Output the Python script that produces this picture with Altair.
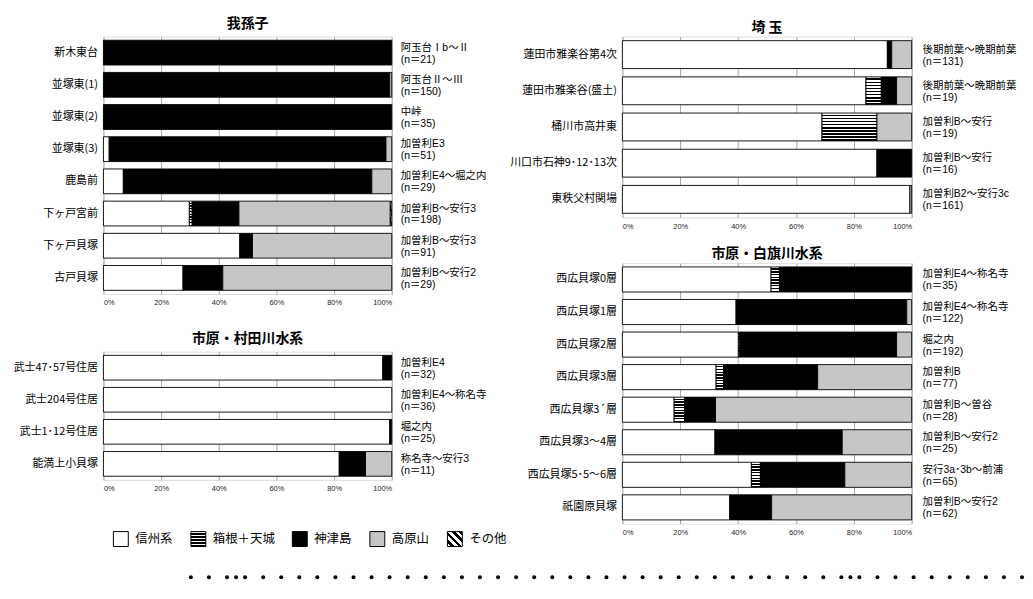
import altair as alt
import pandas as pd

FONT = "Noto Sans CJK JP"
ANN_FONT = "Liberation Sans, Noto Sans CJK JP"
CATS = ["信州系", "箱根＋天城", "神津島", "高原山", "その他"]

# ---------------- data ----------------
abiko_sites = ["新木東台", "並塚東(1)", "並塚東(2)", "並塚東(3)", "鹿島前", "下ヶ戸宮前", "下ヶ戸貝塚", "古戸貝塚"]
abiko_period = ["阿玉台Ⅰb～Ⅱ", "阿玉台Ⅱ～Ⅲ", "中峠", "加曽利E3", "加曽利E4～堀之内", "加曽利B～安行3", "加曽利B～安行3", "加曽利B～安行2"]
abiko_n = [21, 150, 35, 51, 29, 198, 91, 29]
abiko_shinshu = [0, 0, 0, 2.0, 6.9, 29.8, 47.3, 27.6]
abiko_hakone = [0, 0, 0, 0, 0, 1.0, 0, 0]
abiko_kozu = [100, 99.3, 100, 96.0, 86.2, 16.2, 4.4, 13.8]
abiko_takahara = [0, 0.7, 0, 2.0, 6.9, 52.5, 48.3, 58.6]
abiko_other = [0, 0, 0, 0, 0, 0.5, 0, 0]

murata_sites = ["武士47･57号住居", "武士204号住居", "武士1･12号住居", "能満上小貝塚"]
murata_period = ["加曽利E4", "加曽利E4～称名寺", "堀之内", "称名寺～安行3"]
murata_n = [32, 36, 25, 11]
murata_shinshu = [96.9, 100, 99.3, 81.8]
murata_hakone = [0, 0, 0, 0]
murata_kozu = [3.1, 0, 0.7, 9.1]
murata_takahara = [0, 0, 0, 9.1]
murata_other = [0, 0, 0, 0]

saitama_sites = ["蓮田市雅楽谷第4次", "蓮田市雅楽谷(盛土)", "桶川市高井東", "川口市石神9･12･13次", "東秩父村関場"]
saitama_period = ["後期前葉～晩期前葉", "後期前葉～晩期前葉", "加曽利B～安行", "加曽利B～安行", "加曽利B2～安行3c"]
saitama_n = [131, 19, 19, 16, 161]
saitama_shinshu = [91.6, 84.2, 69.0, 88.0, 99.4]
saitama_hakone = [0, 5.3, 19.0, 0, 0]
saitama_kozu = [1.5, 5.3, 0, 12.0, 0]
saitama_takahara = [6.9, 5.2, 12.0, 0, 0.6]
saitama_other = [0, 0, 0, 0, 0]

shirahata_sites = ["西広貝塚0層", "西広貝塚1層", "西広貝塚2層", "西広貝塚3層", "西広貝塚3´層", "西広貝塚3～4層", "西広貝塚5･5～6層", "祇園原貝塚"]
shirahata_period = ["加曽利E4～称名寺", "加曽利E4～称名寺", "堀之内", "加曽利B", "加曽利B～曽谷", "加曽利B～安行2", "安行3a･3b～前浦", "加曽利B～安行2"]
shirahata_n = [35, 122, 192, 77, 28, 25, 65, 62]
shirahata_shinshu = [51.4, 39.3, 40.1, 32.4, 17.9, 32.0, 44.6, 37.1]
shirahata_hakone = [2.9, 0, 0.5, 2.6, 3.6, 0, 3.1, 0]
shirahata_kozu = [45.7, 59.0, 54.2, 32.5, 10.7, 44.0, 29.2, 14.5]
shirahata_takahara = [0, 1.7, 5.2, 32.5, 67.8, 24.0, 23.1, 48.4]
shirahata_other = [0, 0, 0, 0, 0, 0, 0, 0]

dot_steps = [0, 1, 2, 2.5] + list(range(3, 37)) + [36.5] + list(range(37, 47))

# ---------------- fills ----------------
def stripes(n, frac, x2, y2, x1=0, y1=0):
    stops = []
    for i in range(n):
        a = i / n
        b = (i + frac) / n
        c = (i + 1) / n
        stops += [
            {"offset": a, "color": "white"},
            {"offset": b, "color": "white"},
            {"offset": b, "color": "black"},
            {"offset": c, "color": "black"},
        ]
    return {"gradient": "linear", "x1": x1, "y1": y1, "x2": x2, "y2": y2, "stops": stops}

DOT_GRAY = "#c6c6c6"
BAR_FILLS = {
    "信州系": "white",
    "箱根＋天城": stripes(9, 0.5, 0, 1),
    "神津島": "black",
    "高原山": DOT_GRAY,
    "その他": stripes(4, 0.5, 1, 0, 0, 1),
}
LEG_FILLS = {
    "信州系": "white",
    "箱根＋天城": stripes(5, 0.45, 0, 1),
    "神津島": "black",
    "高原山": DOT_GRAY,
    "その他": stripes(4, 0.5, 1, 0, 0, 1),
}


def segments(sites, series):
    rows = []
    for i, s in enumerate(sites):
        start = 0.0
        for c, vals in zip(CATS, series):
            v = vals[i]
            if v > 0:
                rows.append({"site": s, "cat": c, "x0": start, "x1": min(100.0, start + v)})
            start += v
    return pd.DataFrame(rows)


def panel(title, sites, periods, ns, series, width, height, dx, title_offset):
    seg = segments(sites, series)
    ann = pd.DataFrame({
        "site": sites,
        "label": ["%s\n(n＝%d)" % (p, n) for p, n in zip(periods, ns)],
    })
    X = alt.X(
        "x0:Q",
        scale=alt.Scale(domain=[0, 100], nice=False, zero=False),
        axis=alt.Axis(
            values=[0, 20, 40, 60, 80, 100],
            labelExpr="datum.value + '%'",
            grid=True, gridColor="#a8a8a8", gridWidth=1,
            ticks=False, domain=False, title=None,
            labelFontSize=7.5, labelFont="Liberation Sans", labelColor="#222",
            labelPadding=5,
        ),
    )
    Y = alt.Y(
        "site:N", sort=sites,
        scale=alt.Scale(paddingInner=0.23, paddingOuter=0.115),
        axis=alt.Axis(
            title=None, ticks=False, domain=False, grid=False,
            labelFontSize=11, labelFont=FONT, labelColor="black",
            labelPadding=6, labelLimit=300,
        ),
    )
    layers = []
    for c in CATS:
        layers.append(
            alt.Chart(seg)
            .transform_filter(alt.datum.cat == c)
            .mark_bar(fill=BAR_FILLS[c], stroke="black", strokeWidth=0.9)
            .encode(x=X, x2="x1:Q", y=Y)
        )
    layers.append(
        alt.Chart(ann).mark_text(align="left", baseline="middle", dx=dx, dy=-5,
                                 lineBreak="\n", lineHeight=12,
                                 fontSize=10.5, font=ANN_FONT, color="black")
        .encode(x=alt.datum(100), y=Y, text="label:N")
    )
    return alt.layer(*layers).properties(
        width=width, height=height,
        title=alt.Title(title, fontSize=14, font=FONT, fontWeight="bold",
                        anchor="middle", offset=title_offset, color="black"),
    )


abiko = panel("我孫子", abiko_sites, abiko_period, abiko_n,
              [abiko_shinshu, abiko_hakone, abiko_kozu, abiko_takahara, abiko_other],
              290, 259, 9, 6)
murata = panel("市原・村田川水系", murata_sites, murata_period, murata_n,
               [murata_shinshu, murata_hakone, murata_kozu, murata_takahara, murata_other],
               290, 129, 9, 6)
saitama = panel("埼 玉", saitama_sites, saitama_period, saitama_n,
                [saitama_shinshu, saitama_hakone, saitama_kozu, saitama_takahara, saitama_other],
                291, 182, 11, 2)
shirahata = panel("市原・白旗川水系", shirahata_sites, shirahata_period, shirahata_n,
                  [shirahata_shinshu, shirahata_hakone, shirahata_kozu, shirahata_takahara, shirahata_other],
                  291, 262, 11, 2)

# ---------------- legend ----------------
pos = []
acc = 0
for c in CATS:
    pos.append(acc)
    acc += 42 + 12 * len(c)
leg_df = pd.DataFrame({"cat": CATS, "pos": pos})
LX = alt.X("pos:Q", scale=alt.Scale(domain=[-10, 390], nice=False, zero=False), axis=None)
leg_layers = []
for c in CATS:
    leg_layers.append(
        alt.Chart(leg_df)
        .transform_filter(alt.datum.cat == c)
        .transform_calculate(pos2="datum.pos + 15")
        .mark_rect(fill=LEG_FILLS[c], stroke="black", strokeWidth=1)
        .encode(x=LX, x2="pos2:Q", y=alt.value(-6), y2=alt.value(9))
    )
leg_layers.append(
    alt.Chart(leg_df)
    .transform_calculate(tx="datum.pos + 22")
    .mark_text(align="left", baseline="middle", fontSize=12.5, font=FONT, color="black")
    .encode(x=alt.X("tx:Q", scale=alt.Scale(domain=[-10, 390], nice=False, zero=False), axis=None),
            y=alt.value(1.5), text="cat:N")
)
legend = alt.layer(*leg_layers).properties(width=400, height=15,
                                          view=alt.ViewBackground(stroke="transparent"))

# ---------------- dotted rule ----------------
dots = alt.Chart(pd.DataFrame({"step": dot_steps})).mark_circle(size=16, color="black", opacity=1).encode(
    x=alt.X("step:Q", scale=alt.Scale(domain=[-4.84, 46], nice=False, zero=False), axis=None),
    y=alt.value(2),
).properties(width=924, height=4, view=alt.ViewBackground(stroke="transparent"))

left = alt.VConcatChart(vconcat=[abiko, murata, legend], spacing=58, bounds="flush")
right = alt.VConcatChart(vconcat=[saitama, shirahata], spacing=46, bounds="flush")
top = alt.hconcat(left, right, spacing=0)
chart = alt.vconcat(top, dots, spacing=21).properties(
    padding={"left": 4, "top": 6, "right": 0, "bottom": 0}
).configure_view(stroke="black", strokeWidth=1.4).configure(background="white")

chart.save("out.html", embed_options={"renderer": "svg", "actions": False})
